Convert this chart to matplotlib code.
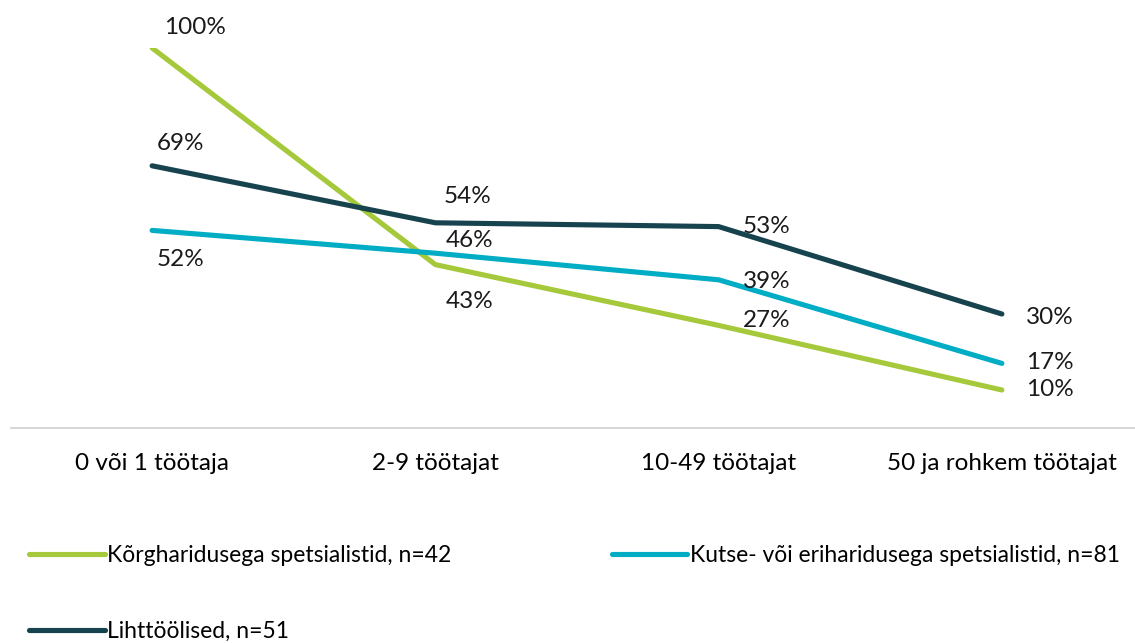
import matplotlib
matplotlib.use("Agg")
import matplotlib.pyplot as plt

plt.rcParams["font.family"] = ["Lato", "DejaVu Sans"]

categories = ["0 või 1 töötaja", "2-9 töötajat", "10-49 töötajat", "50 ja rohkem töötajat"]
series_names = [
    "Kõrgharidusega spetsialistid, n=42",
    "Kutse- või eriharidusega spetsialistid, n=81",
    "Lihttöölised, n=51",
]
korg = [100, 43, 27, 10]
kutse = [52, 46, 39, 17]
liht = [69, 54, 53, 30]
colors = ["#A5C93A", "#00ADC4", "#17434F"]

# label offsets in pixels (dx, dy), one per point
offsets = {
    0: [(43, 21), (34, -37), (48, 5), (48, 0)],
    1: [(28, -29), (34, 13), (48, -2), (48, 1)],
    2: [(28, 22), (32, 26), (48, 0), (48, -3)],
}

FS = 17.5
LFS = 16.5
W, H = 1135, 643
fig = plt.figure(figsize=(W / 100, H / 100), dpi=100)
x0, x1 = 10.5, 1143.5
ybot, ytop = 428, 48
ax = fig.add_axes([x0 / W, 1 - ybot / H, (x1 - x0) / W, (ybot - ytop) / H])

xs = range(len(categories))
lines = []
for i, (vals, name) in enumerate(zip([korg, kutse, liht], series_names)):
    ln, = ax.plot(xs, vals, color=colors[i], lw=3.7, solid_capstyle="round",
                  solid_joinstyle="round", label=name, zorder=3 + (i == 2))
    lines.append(ln)
    for j, v in enumerate(vals):
        dx, dy = offsets[i][j]
        ax.annotate(f"{v}%", (j, v), xytext=(dx, dy), textcoords="offset pixels",
                    ha="center", va="center", fontsize=FS, color="#1a1a1a")

ax.set_xlim(-0.5, 3.5)
ax.set_ylim(0, 100)
ax.set_xticks(list(xs))
ax.set_xticklabels(categories, fontsize=FS)
ax.tick_params(axis="x", length=0, pad=18)
ax.set_yticks([])
for s in ["top", "right", "left"]:
    ax.spines[s].set_visible(False)
ax.spines["bottom"].set_color("#D0D0D0")
ax.spines["bottom"].set_linewidth(1.2)

# row-wise order: first row two entries, second row the third
order = [0, 2, 1]
fig.legend([lines[k] for k in order], [series_names[k] for k in order],
           loc="upper left", bbox_to_anchor=(20 / W, 1 - 536 / H), ncol=2,
           frameon=False, fontsize=LFS, handlelength=3.3, handletextpad=0.1,
           columnspacing=7.0, labelspacing=2.4, borderaxespad=0)

fig.savefig("out.png", dpi=100)
